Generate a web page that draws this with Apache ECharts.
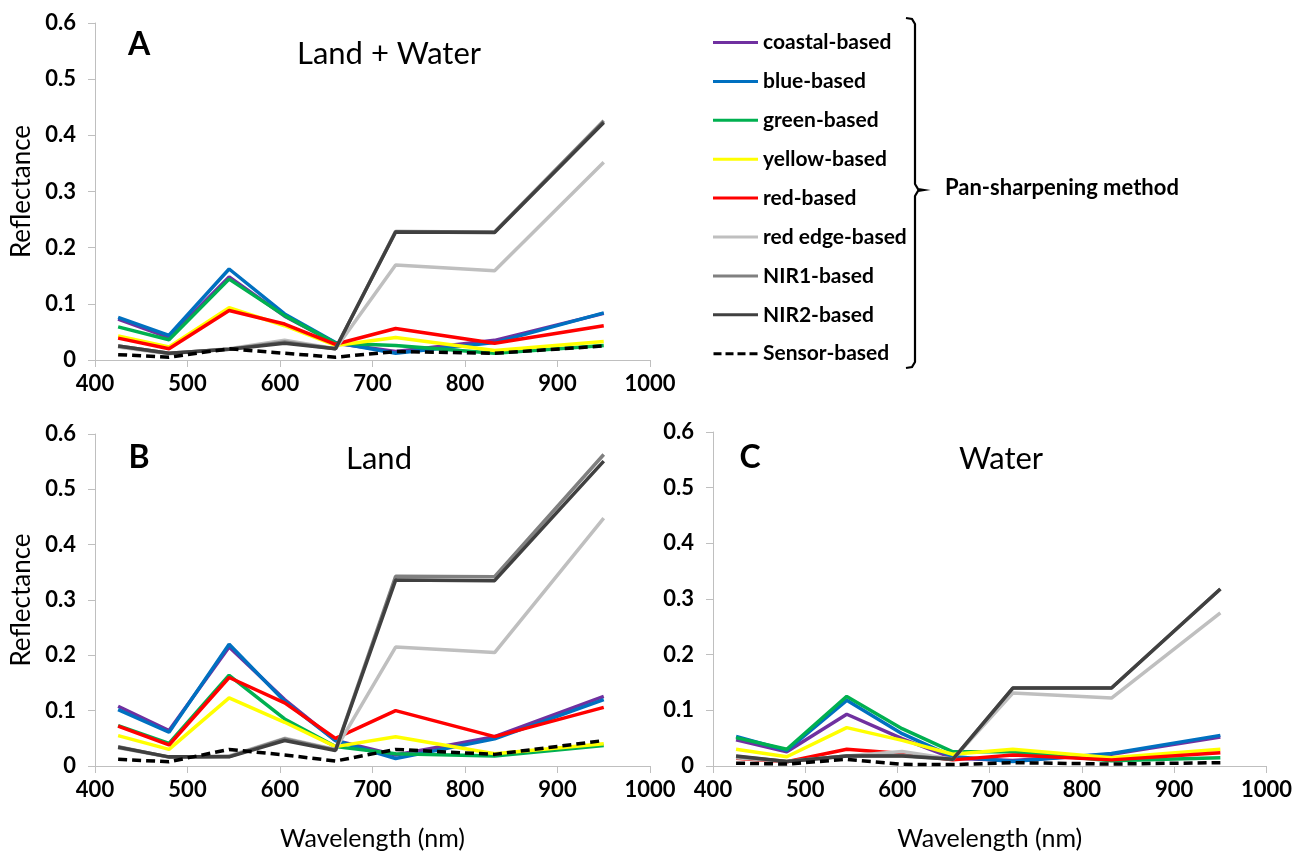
<!DOCTYPE html>
<html>
<head>
<meta charset="utf-8">
<script src="https://cdn.jsdelivr.net/npm/echarts@6/dist/echarts.min.js"></script>
<style>
html,body{margin:0;padding:0;background:#fff;}
#chart{width:1295px;height:852px;}
</style>
</head>
<body>
<div id="chart"></div>
<script>
// ---- data ----
const wavelengths = [425, 480, 545, 605, 660, 725, 832, 950];
const seriesNames = ['coastal-based','blue-based','green-based','yellow-based','red-based','red edge-based','NIR1-based','NIR2-based','Sensor-based'];
const xTicks = [400, 500, 600, 700, 800, 900, 1000];
const yTicks = [0, 0.1, 0.2, 0.3, 0.4, 0.5, 0.6];

// Panel A: Land + Water
const A_coastal  = [0.073, 0.040, 0.148, 0.078, 0.030, 0.015, 0.035, 0.083];
const A_blue     = [0.076, 0.044, 0.162, 0.082, 0.031, 0.012, 0.031, 0.084];
const A_green    = [0.059, 0.036, 0.144, 0.079, 0.030, 0.026, 0.012, 0.026];
const A_yellow   = [0.043, 0.023, 0.093, 0.061, 0.026, 0.040, 0.017, 0.033];
const A_red      = [0.039, 0.020, 0.088, 0.064, 0.028, 0.056, 0.030, 0.061];
const A_rededge  = [0.023, 0.011, 0.020, 0.035, 0.020, 0.169, 0.159, 0.352];
const A_nir1     = [0.025, 0.012, 0.019, 0.032, 0.020, 0.229, 0.228, 0.426];
const A_nir2     = [0.025, 0.012, 0.019, 0.030, 0.020, 0.228, 0.227, 0.423];
const A_sensor   = [0.0095, 0.005, 0.020, 0.012, 0.005, 0.015, 0.012, 0.025];

// Panel B: Land
const B_coastal  = [0.108, 0.064, 0.215, 0.120, 0.046, 0.020, 0.053, 0.126];
const B_blue     = [0.102, 0.061, 0.220, 0.117, 0.046, 0.0136, 0.049, 0.120];
const B_green    = [0.073, 0.041, 0.164, 0.085, 0.035, 0.022, 0.018, 0.037];
const B_yellow   = [0.055, 0.030, 0.123, 0.079, 0.035, 0.053, 0.022, 0.040];
const B_red      = [0.072, 0.038, 0.160, 0.114, 0.050, 0.100, 0.053, 0.106];
const B_rededge  = [0.033, 0.016, 0.018, 0.050, 0.030, 0.215, 0.205, 0.448];
const B_nir1     = [0.035, 0.016, 0.017, 0.049, 0.029, 0.343, 0.342, 0.563];
const B_nir2     = [0.034, 0.0165, 0.0165, 0.046, 0.028, 0.336, 0.335, 0.551];
const B_sensor   = [0.012, 0.0077, 0.030, 0.020, 0.009, 0.030, 0.021, 0.046];

// Panel C: Water
const C_coastal  = [0.047, 0.0255, 0.093, 0.049, 0.014, 0.010, 0.021, 0.052];
const C_blue     = [0.053, 0.028, 0.118, 0.058, 0.017, 0.008, 0.0225, 0.055];
const C_green    = [0.051, 0.030, 0.125, 0.067, 0.0255, 0.0255, 0.0095, 0.015];
const C_yellow   = [0.030, 0.0166, 0.069, 0.046, 0.021, 0.030, 0.015, 0.030];
const C_red      = [0.0137, 0.0077, 0.030, 0.0225, 0.011, 0.0196, 0.011, 0.024];
const C_rededge  = [0.015, 0.008, 0.018, 0.026, 0.012, 0.131, 0.122, 0.275];
const C_nir1     = [0.017, 0.008, 0.018, 0.019, 0.012, 0.140, 0.140, 0.318];
const C_nir2     = [0.018, 0.008, 0.018, 0.018, 0.012, 0.140, 0.140, 0.318];
const C_sensor   = [0.005, 0.0035, 0.012, 0.003, 0.0025, 0.006, 0.0035, 0.006];

// ---- styling ----
const colors = ['#7030A0','#0070C0','#00B050','#FFFF00','#FF0000','#BFBFBF','#808080','#404040','#000000'];
const FONT = 'Lato, "Open Sans", sans-serif';

const panels = [
  [A_coastal,A_blue,A_green,A_yellow,A_red,A_rededge,A_nir1,A_nir2,A_sensor],
  [B_coastal,B_blue,B_green,B_yellow,B_red,B_rededge,B_nir1,B_nir2,B_sensor],
  [C_coastal,C_blue,C_green,C_yellow,C_red,C_rededge,C_nir1,C_nir2,C_sensor]
];

const grids = [
  {left:95, top:23, width:555, height:337},
  {left:95, top:434, width:555, height:338},
  {left:713, top:432, width:555, height:338}
];

function xAxisFor(i, withName){
  return {
    type:'value', gridIndex:i, min:xTicks[0], max:xTicks[xTicks.length-1], interval:100,
    axisLine:{show:true, lineStyle:{color:'#BFBFBF', width:1}},
    axisTick:{show:true, length:7, lineStyle:{color:'#BFBFBF'}},
    splitLine:{show:false},
    axisLabel:{color:'#000', fontFamily:FONT, fontWeight:'bold', fontSize:22, margin:13,
               formatter: v => String(v)},
    name: withName ? 'Wavelength (nm)' : '',
    nameLocation:'middle', nameGap:60,
    nameTextStyle:{color:'#000', fontFamily:FONT, fontSize:25}
  };
}
function yAxisFor(i, withName){
  return {
    type:'value', gridIndex:i, min:yTicks[0], max:yTicks[yTicks.length-1], interval:0.1,
    axisLine:{show:true, lineStyle:{color:'#BFBFBF', width:1}},
    axisTick:{show:true, length:7, lineStyle:{color:'#BFBFBF'}},
    splitLine:{show:false},
    axisLabel:{color:'#000', fontFamily:FONT, fontWeight:'bold', fontSize:22, margin:19,
               formatter: v => String(v)},
    name: withName ? 'Reflectance' : '',
    nameLocation:'middle', nameGap:60, nameRotate:90,
    nameTextStyle:{color:'#000', fontFamily:FONT, fontSize:26}
  };
}

const series = [];
panels.forEach((arrs, p) => {
  arrs.forEach((vals, k) => {
    series.push({
      name: seriesNames[k],
      type:'line',
      xAxisIndex:p, yAxisIndex:p,
      symbol:'none',
      silent:true,
      animation:false,
      data: wavelengths.map((w, j) => [w, vals[j]]),
      lineStyle: k === 8
        ? {color:colors[k], width:3.5, type:[9,5]}
        : {color:colors[k], width:3.5},
      itemStyle:{color:colors[k]},
      z: 2 + k
    });
  });
});

const dashIcon = 'path://M0,0h8v3h-8z M12,0h8v3h-8z M24,0h8v3h-8z M36,0h8v3h-8z';
const legendData = seriesNames.map((n, k) => ({name:n, icon: k === 8 ? dashIcon : 'rect'}));

const option = {
  backgroundColor:'#fff',
  animation:false,
  grid: grids,
  xAxis: [xAxisFor(0,false), xAxisFor(1,true), xAxisFor(2,true)],
  yAxis: [yAxisFor(0,true), yAxisFor(1,true), yAxisFor(2,false)],
  title: [
    {text:'A', left:134, top:24, textAlign:'center', textStyle:{fontFamily:FONT, fontWeight:'bold', fontSize:32, color:'#000'}},
    {text:'Land + Water', left:384, top:33, textAlign:'center', textStyle:{fontFamily:FONT, fontWeight:'normal', fontSize:31, color:'#000'}},
    {text:'B', left:134, top:437, textAlign:'center', textStyle:{fontFamily:FONT, fontWeight:'bold', fontSize:32, color:'#000'}},
    {text:'Land', left:374, top:438, textAlign:'center', textStyle:{fontFamily:FONT, fontWeight:'normal', fontSize:31, color:'#000'}},
    {text:'C', left:745, top:437, textAlign:'center', textStyle:{fontFamily:FONT, fontWeight:'bold', fontSize:32, color:'#000'}},
    {text:'Water', left:996, top:438, textAlign:'center', textStyle:{fontFamily:FONT, fontWeight:'normal', fontSize:31, color:'#000'}}
  ],
  legend: {
    data: legendData,
    orient:'vertical',
    left:708, top:27,
    itemWidth:45, itemHeight:3, itemGap:17.9,
    selectedMode:false,
    textStyle:{fontFamily:FONT, fontWeight:'bold', fontSize:21, color:'#000', lineHeight:20}
  },
  graphic: [
    {type:'polyline', silent:true,
     shape:{points:[[906,18],[912,19],[915,24],[915,184],[918,189],[924,190],[918,191],[915,196],[915,362],[912,367],[906,368]]},
     style:{fill:null, stroke:'#000', lineWidth:2.2}},
    {type:'text', left:945, top:177, silent:true,
     style:{text:'Pan-sharpening method', fontFamily:FONT, fontWeight:'bold', fontSize:22, fill:'#000'}}
  ],
  series: series
};

const chart = echarts.init(document.getElementById('chart'), null, {renderer:'canvas'});
chart.setOption(option);
</script>
</body>
</html>
